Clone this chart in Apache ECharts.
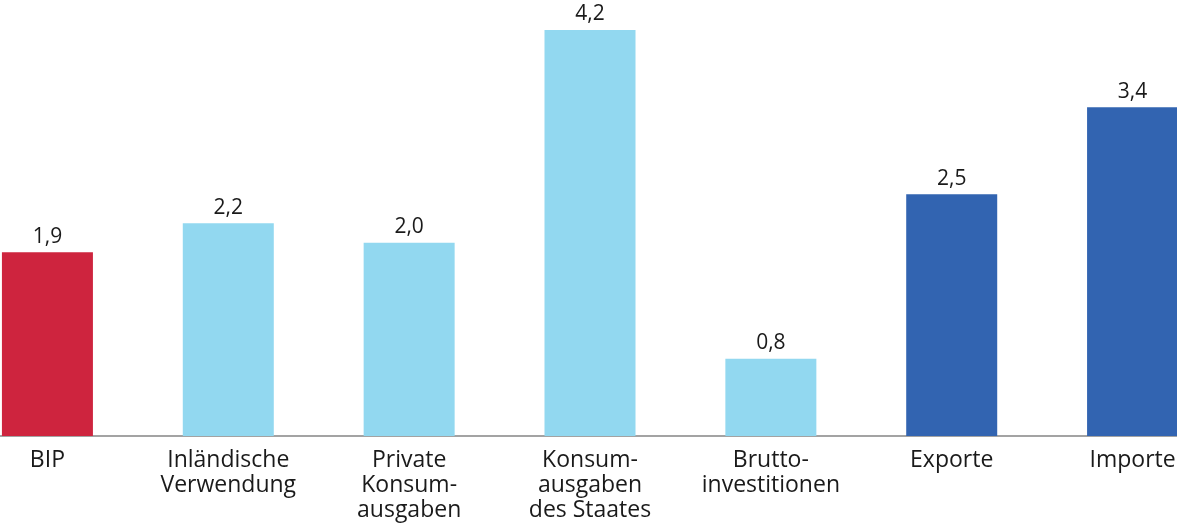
<!DOCTYPE html>
<html>
<head>
<meta charset="utf-8">
<script src="https://cdn.jsdelivr.net/npm/echarts@6/dist/echarts.min.js"></script>
<style>
  html, body { margin: 0; padding: 0; background: #fff; }
  #chart { width: 1177px; height: 528px; }
</style>
</head>
<body>
<div id="chart"></div>
<script>
const categories = ['BIP', 'Inländische\nVerwendung', 'Private\nKonsum-\nausgaben', 'Konsum-\nausgaben\ndes Staates', 'Brutto-\ninvestitionen', 'Exporte', 'Importe']
const values = [1.9, 2.2, 2.0, 4.2, 0.8, 2.5, 3.4]
const barColors = ['#ce243e', '#92d8f0', '#92d8f0', '#92d8f0', '#92d8f0', '#3264b1', '#3264b1']

const chart = echarts.init(document.getElementById('chart'))
chart.setOption({
  animation: false,
  textStyle: { fontFamily: 'Open Sans' },
  grid: { left: -43, right: -46, top: 1, bottom: 92, containLabel: false, outerBoundsMode: 'none' },
  xAxis: {
    type: 'category',
    data: categories,
    axisLine: { lineStyle: { color: '#a3a3a3', width: 2 } },
    axisTick: { show: false },
    axisLabel: {
      color: '#1a1a1a',
      fontSize: 23,
      lineHeight: 25,
      margin: 12,
      interval: 0
    }
  },
  yAxis: {
    type: 'value',
    min: 0,
    max: 4.5,
    show: false,
    splitLine: { show: false }
  },
  series: [{
    type: 'bar',
    barWidth: 91,
    data: values.map((v, i) => ({ value: v, itemStyle: { color: barColors[i] } })),
    label: {
      show: true,
      position: 'top',
      distance: 5,
      color: '#1a1a1a',
      fontSize: 21,
      formatter: p => p.value.toFixed(1).replace('.', ',')
    }
  }]
})
</script>
</body>
</html>
